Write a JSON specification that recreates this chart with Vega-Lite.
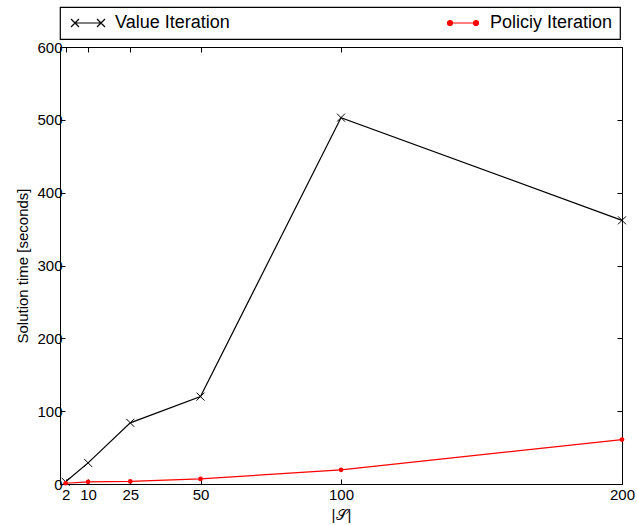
{
  "$schema": "https://vega.github.io/schema/vega-lite/v6.json",
  "width": 562,
  "height": 437,
  "autosize": {"type": "none"},
  "padding": {"left": 60, "top": 47, "right": 15, "bottom": 41},
  "background": "white",
  "config": {
    "font": "Liberation Sans",
    "view": {"stroke": "black", "strokeWidth": 1},
    "axis": {
      "grid": false,
      "domainColor": "black",
      "tickColor": "black",
      "tickSize": -5,
      "labelColor": "black",
      "labelFont": "Liberation Sans",
      "labelFontSize": 15,
      "labelFlush": false,
      "labelOverlap": false,
      "titleFont": "Liberation Sans",
      "titleFontSize": 15,
      "titleFontWeight": "normal",
      "titleColor": "black"
    }
  },
  "data": {
    "values": [
      {"n": 2, "series": "Value Iteration", "time": 3},
      {"n": 10, "series": "Value Iteration", "time": 29},
      {"n": 25, "series": "Value Iteration", "time": 84},
      {"n": 50, "series": "Value Iteration", "time": 120},
      {"n": 100, "series": "Value Iteration", "time": 503},
      {"n": 200, "series": "Value Iteration", "time": 362},
      {"n": 2, "series": "Policiy Iteration", "time": 1},
      {"n": 10, "series": "Policiy Iteration", "time": 3},
      {"n": 25, "series": "Policiy Iteration", "time": 3.5},
      {"n": 50, "series": "Policiy Iteration", "time": 7},
      {"n": 100, "series": "Policiy Iteration", "time": 19.5},
      {"n": 200, "series": "Policiy Iteration", "time": 61}
    ]
  },
  "resolve": {"axis": {"x": "independent", "y": "independent"}},
  "layer": [
    {
      "mark": {"type": "line", "strokeWidth": 1.2},
      "encoding": {
        "x": {
          "field": "n", "type": "quantitative",
          "scale": {"domain": [0, 200], "nice": false},
          "axis": {"orient": "bottom", "values": [2, 10, 25, 50, 100, 200], "title": "|𝒮|", "labelPadding": 8, "titlePadding": 5}
        },
        "y": {
          "field": "time", "type": "quantitative",
          "scale": {"domain": [0, 600], "nice": false},
          "axis": {"orient": "left", "values": [0, 100, 200, 300, 400, 500, 600], "title": "Solution time [seconds]", "labelPadding": 3, "titlePadding": 6}
        },
        "color": {
          "field": "series", "type": "nominal",
          "scale": {"domain": ["Value Iteration", "Policiy Iteration"], "range": ["#000000", "#ff0000"]},
          "legend": {
            "orient": "none",
            "legendX": 0,
            "legendY": -40,
            "direction": "horizontal",
            "columns": 2,
            "columnPadding": 212,
            "title": null,
            "strokeColor": "black",
            "fillColor": "white",
            "padding": 7,
            "labelFont": "Liberation Sans",
            "labelFontSize": 18,
            "labelColor": "black",
            "labelOffset": 18,
            "symbolOffset": 12,
            "symbolSize": 100,
            "symbolStrokeWidth": 1.2,
            "encode": {
              "legend": {
                "update": {
                  "stroke": {"value": "black"},
                  "strokeWidth": {"value": 1.2},
                  "fill": {"value": "white"}
                }
              },
              "symbols": {
                "update": {
                  "shape": {"signal": "datum.value === 'Value Iteration' ? 'M-2.6,0L2.6,0M-3.4,-0.8L-1.8,0.8M-3.4,0.8L-1.8,-0.8M1.8,-0.8L3.4,0.8M1.8,0.8L3.4,-0.8' : 'M-2.6,0L2.6,0M-2.1,0A0.5,0.5 0 1,1 -3.1,0A0.5,0.5 0 1,1 -2.1,0ZM3.1,0A0.5,0.5 0 1,1 2.1,0A0.5,0.5 0 1,1 3.1,0Z'"},
                  "fill": {"signal": "datum.value === 'Value Iteration' ? 'transparent' : '#ff0000'"},
                  "stroke": {"signal": "datum.value === 'Value Iteration' ? '#000000' : '#ff0000'"},
                  "strokeWidth": {"value": 1.2}
                }
              }
            }
          }
        }
      }
    },
    {
      "transform": [{"filter": "datum.series === 'Value Iteration'"}],
      "mark": {"type": "point", "shape": "M-1,-1L1,1M-1,1L1,-1", "filled": false, "color": "#000000", "size": 64, "strokeWidth": 1, "opacity": 1},
      "encoding": {
        "x": {"field": "n", "type": "quantitative", "axis": null},
        "y": {"field": "time", "type": "quantitative", "axis": null}
      }
    },
    {
      "transform": [{"filter": "datum.series === 'Policiy Iteration'"}],
      "mark": {"type": "circle", "color": "#ff0000", "size": 22, "opacity": 1},
      "encoding": {
        "x": {"field": "n", "type": "quantitative", "axis": {"orient": "top", "values": [2, 10, 25, 50, 100, 200], "labels": false, "title": null, "domain": false}},
        "y": {"field": "time", "type": "quantitative", "axis": {"orient": "right", "values": [0, 100, 200, 300, 400, 500, 600], "labels": false, "title": null, "domain": false}}
      }
    }
  ]
}
